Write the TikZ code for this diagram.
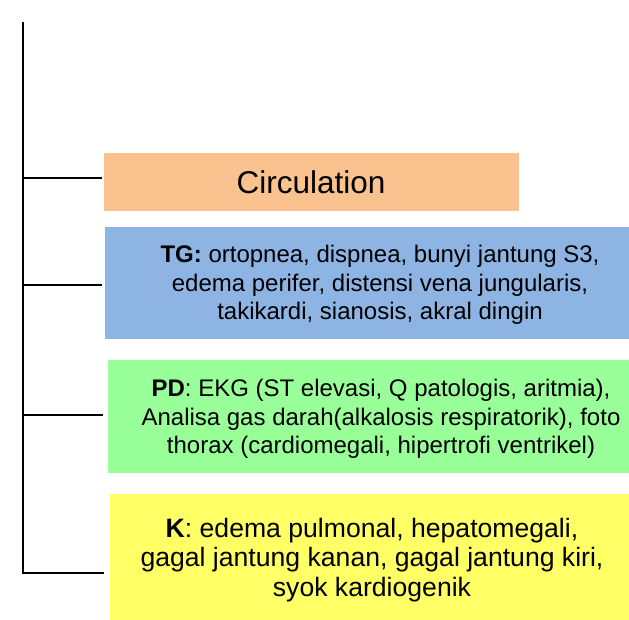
\documentclass[tikz,border=0pt]{standalone}
\usepackage{fontspec}
\setmainfont{Liberation Sans}
\definecolor{corange}{HTML}{F9C28F}
\definecolor{cblue}{HTML}{8EB4E3}
\definecolor{cgreen}{HTML}{99FF99}
\definecolor{cyellow}{HTML}{FFFF66}
\begin{document}
\begin{tikzpicture}[x=1pt,y=-1pt,
  box/.style={inner sep=0pt, outer sep=0pt, anchor=north west, draw=none},
  body/.style={inner sep=0pt, align=center, font=\fontsize{24}{28.5}\selectfont},
  link/.style={draw=black, line width=2pt}]
\useasboundingbox (0,0) rectangle (629,620);
% boxes
\node[box, fill=corange, minimum width=415pt, minimum height=58pt] (circ) at (104,153) {};
\node[box, fill=cblue, minimum width=524pt, minimum height=112pt] (tg) at (105,227) {};
\node[box, fill=cgreen, minimum width=521pt, minimum height=113pt] (pd) at (108,360) {};
\node[box, fill=cyellow, minimum width=519pt, minimum height=126pt] (k) at (110,494) {};
% texts
\node[inner sep=0pt, font=\fontsize{31.5}{36}\selectfont] (circT) at (311,182) {Circulation};
\node[body] (tgT) at (380,285) {\textbf{TG:} ortopnea, dispnea, bunyi jantung S3,\\edema perifer, distensi vena jungularis,\\takikardi, sianosis, akral dingin};
\node[body] (pdT) at (381,419) {\textbf{PD}: EKG (ST elevasi, Q patologis, aritmia),\\Analisa gas darah(alkalosis respiratorik), foto\\thorax (cardiomegali, hipertrofi ventrikel)};
\node[body, font=\fontsize{26.6}{29.5}\selectfont] (kT) at (372,560) {\textbf{K}: edema pulmonal, hepatomegali,\\gagal jantung kanan, gagal jantung kiri,\\syok kardiogenik};
% connectors
\coordinate (top) at (23,22);
\coordinate (c1) at (102,178);
\coordinate (c2) at (102,285);
\coordinate (c3) at (103,415);
\coordinate (c4) at (104,573);
\draw[link] (top) -- (top |- c4) -- (c4);
\draw[link] (top |- c1) -- (c1);
\draw[link] (top |- c2) -- (c2);
\draw[link] (top |- c3) -- (c3);
\end{tikzpicture}
\end{document}
